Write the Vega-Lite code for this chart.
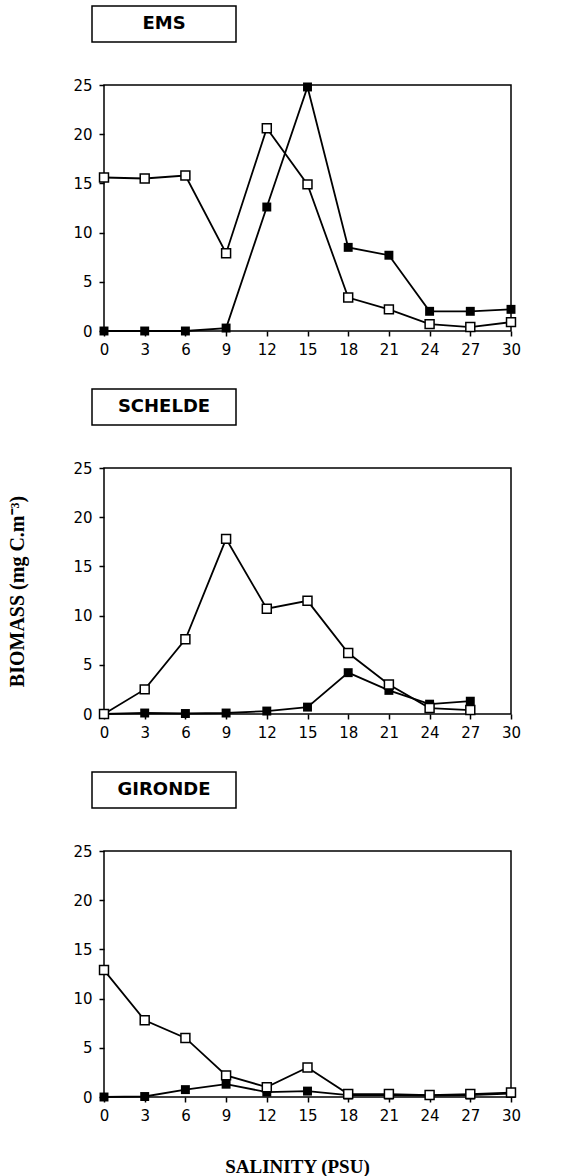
{
  "$schema": "https://vega.github.io/schema/vega-lite/v6.json",
  "padding": {"left": 7, "top": 5, "right": 5, "bottom": 0},
  "background": "white",
  "spacing": 30,
  "config": {
    "view": {"stroke": "black", "strokeWidth": 1.5},
    "concat": {"spacing": 0},
    "axis": {
      "domain": false,
      "grid": false,
      "ticks": true,
      "tickSize": 5,
      "tickColor": "black",
      "tickWidth": 1.5,
      "labelFont": "DejaVu Sans",
      "labelFontSize": 15,
      "labelColor": "black",
      "labelFlush": false,
      "titleFont": "Liberation Serif",
      "titleFontWeight": "bold",
      "titleColor": "black"
    },
    "axisX": {"labelPadding": 6, "titleFontSize": 19},
    "axisY": {"labelPadding": 7, "titleFontSize": 20}
  },
  "datasets": {
    "d": [
      {"estuary": "EMS", "series": "open", "salinity": 0, "biomass": 15.6},
      {"estuary": "EMS", "series": "open", "salinity": 3, "biomass": 15.5},
      {"estuary": "EMS", "series": "open", "salinity": 6, "biomass": 15.8},
      {"estuary": "EMS", "series": "open", "salinity": 9, "biomass": 7.9},
      {"estuary": "EMS", "series": "open", "salinity": 12, "biomass": 20.6},
      {"estuary": "EMS", "series": "open", "salinity": 15, "biomass": 14.9},
      {"estuary": "EMS", "series": "open", "salinity": 18, "biomass": 3.4},
      {"estuary": "EMS", "series": "open", "salinity": 21, "biomass": 2.2},
      {"estuary": "EMS", "series": "open", "salinity": 24, "biomass": 0.7},
      {"estuary": "EMS", "series": "open", "salinity": 27, "biomass": 0.4},
      {"estuary": "EMS", "series": "open", "salinity": 30, "biomass": 0.9},
      {"estuary": "EMS", "series": "filled", "salinity": 0, "biomass": 0},
      {"estuary": "EMS", "series": "filled", "salinity": 3, "biomass": 0},
      {"estuary": "EMS", "series": "filled", "salinity": 6, "biomass": 0},
      {"estuary": "EMS", "series": "filled", "salinity": 9, "biomass": 0.3},
      {"estuary": "EMS", "series": "filled", "salinity": 12, "biomass": 12.6},
      {"estuary": "EMS", "series": "filled", "salinity": 15, "biomass": 24.8},
      {"estuary": "EMS", "series": "filled", "salinity": 18, "biomass": 8.5},
      {"estuary": "EMS", "series": "filled", "salinity": 21, "biomass": 7.7},
      {"estuary": "EMS", "series": "filled", "salinity": 24, "biomass": 2.0},
      {"estuary": "EMS", "series": "filled", "salinity": 27, "biomass": 2.0},
      {"estuary": "EMS", "series": "filled", "salinity": 30, "biomass": 2.2},
      {"estuary": "SCHELDE", "series": "open", "salinity": 0, "biomass": 0},
      {"estuary": "SCHELDE", "series": "open", "salinity": 3, "biomass": 2.5},
      {"estuary": "SCHELDE", "series": "open", "salinity": 6, "biomass": 7.6},
      {"estuary": "SCHELDE", "series": "open", "salinity": 9, "biomass": 17.8},
      {"estuary": "SCHELDE", "series": "open", "salinity": 12, "biomass": 10.7},
      {"estuary": "SCHELDE", "series": "open", "salinity": 15, "biomass": 11.5},
      {"estuary": "SCHELDE", "series": "open", "salinity": 18, "biomass": 6.2},
      {"estuary": "SCHELDE", "series": "open", "salinity": 21, "biomass": 3.0},
      {"estuary": "SCHELDE", "series": "open", "salinity": 24, "biomass": 0.6},
      {"estuary": "SCHELDE", "series": "open", "salinity": 27, "biomass": 0.4},
      {"estuary": "SCHELDE", "series": "filled", "salinity": 0, "biomass": 0},
      {"estuary": "SCHELDE", "series": "filled", "salinity": 3, "biomass": 0.1},
      {"estuary": "SCHELDE", "series": "filled", "salinity": 6, "biomass": 0.05},
      {"estuary": "SCHELDE", "series": "filled", "salinity": 9, "biomass": 0.1},
      {"estuary": "SCHELDE", "series": "filled", "salinity": 12, "biomass": 0.3},
      {"estuary": "SCHELDE", "series": "filled", "salinity": 15, "biomass": 0.7},
      {"estuary": "SCHELDE", "series": "filled", "salinity": 18, "biomass": 4.2},
      {"estuary": "SCHELDE", "series": "filled", "salinity": 21, "biomass": 2.4},
      {"estuary": "SCHELDE", "series": "filled", "salinity": 24, "biomass": 1.0},
      {"estuary": "SCHELDE", "series": "filled", "salinity": 27, "biomass": 1.3},
      {"estuary": "GIRONDE", "series": "open", "salinity": 0, "biomass": 12.9},
      {"estuary": "GIRONDE", "series": "open", "salinity": 3, "biomass": 7.8},
      {"estuary": "GIRONDE", "series": "open", "salinity": 6, "biomass": 6.0},
      {"estuary": "GIRONDE", "series": "open", "salinity": 9, "biomass": 2.2},
      {"estuary": "GIRONDE", "series": "open", "salinity": 12, "biomass": 1.0},
      {"estuary": "GIRONDE", "series": "open", "salinity": 15, "biomass": 3.0},
      {"estuary": "GIRONDE", "series": "open", "salinity": 18, "biomass": 0.3},
      {"estuary": "GIRONDE", "series": "open", "salinity": 21, "biomass": 0.3},
      {"estuary": "GIRONDE", "series": "open", "salinity": 24, "biomass": 0.2},
      {"estuary": "GIRONDE", "series": "open", "salinity": 27, "biomass": 0.3},
      {"estuary": "GIRONDE", "series": "open", "salinity": 30, "biomass": 0.45},
      {"estuary": "GIRONDE", "series": "filled", "salinity": 0, "biomass": 0},
      {"estuary": "GIRONDE", "series": "filled", "salinity": 3, "biomass": 0.05},
      {"estuary": "GIRONDE", "series": "filled", "salinity": 6, "biomass": 0.75},
      {"estuary": "GIRONDE", "series": "filled", "salinity": 9, "biomass": 1.3},
      {"estuary": "GIRONDE", "series": "filled", "salinity": 12, "biomass": 0.5},
      {"estuary": "GIRONDE", "series": "filled", "salinity": 15, "biomass": 0.6},
      {"estuary": "GIRONDE", "series": "filled", "salinity": 18, "biomass": 0.2},
      {"estuary": "GIRONDE", "series": "filled", "salinity": 21, "biomass": 0.2},
      {"estuary": "GIRONDE", "series": "filled", "salinity": 24, "biomass": 0.15},
      {"estuary": "GIRONDE", "series": "filled", "salinity": 27, "biomass": 0.2},
      {"estuary": "GIRONDE", "series": "filled", "salinity": 30, "biomass": 0.35}
    ]
  },
  "vconcat": [
    {
      "spacing": 34,
      "vconcat": [
        {"width": 144, "height": 36, "view": {"stroke": "black", "strokeWidth": 1.5}, "data": {"values": [{"name": "EMS"}]}, "mark": {"type": "text", "font": "DejaVu Sans", "fontSize": 18, "fontWeight": "bold", "color": "black"}, "encoding": {"text": {"field": "name"}}},
        {
          "bounds": "flush",
          "spacing": 0,
          "hconcat": [
            {"width": 12, "height": 246, "view": {"stroke": null}, "data": {"values": [{}]}, "mark": "text", "encoding": {"text": {"value": ""}}},
            {
              "width": 407, "height": 246,
              "data": {"name": "d"},
              "transform": [{"filter": "datum.estuary === 'EMS'"}],
              "encoding": {
                "x": {"field": "salinity", "type": "quantitative", "scale": {"domain": [0, 30], "nice": false}, "axis": {"values": [0, 3, 6, 9, 12, 15, 18, 21, 24, 27, 30], "title": null}},
                "y": {"field": "biomass", "type": "quantitative", "scale": {"domain": [0, 25], "nice": false}, "axis": {"values": [0, 5, 10, 15, 20, 25], "title": "BIOMASS (mg C.m⁻³)", "titlePadding": 45, "titleOpacity": 0}}
              },
              "layer": [
                {"mark": {"type": "line", "color": "black", "strokeWidth": 1.8}, "encoding": {"detail": {"field": "series"}}},
                {"transform": [{"filter": "datum.series === 'filled'"}], "mark": {"type": "point", "shape": "square", "size": 80, "filled": true, "color": "black", "opacity": 1}},
                {"transform": [{"filter": "datum.series === 'open'"}], "mark": {"type": "point", "shape": "square", "size": 80, "fill": "white", "stroke": "black", "strokeWidth": 1.5, "opacity": 1}}
              ]
            }
          ]
        }
      ]
    },
    {
      "spacing": 34,
      "vconcat": [
        {"width": 144, "height": 36, "view": {"stroke": "black", "strokeWidth": 1.5}, "data": {"values": [{"name": "SCHELDE"}]}, "mark": {"type": "text", "font": "DejaVu Sans", "fontSize": 18, "fontWeight": "bold", "color": "black"}, "encoding": {"text": {"field": "name"}}},
        {
          "bounds": "flush",
          "spacing": 0,
          "hconcat": [
            {"width": 12, "height": 246, "view": {"stroke": null}, "data": {"values": [{}]}, "mark": "text", "encoding": {"text": {"value": ""}}},
            {
              "width": 407, "height": 246,
              "data": {"name": "d"},
              "transform": [{"filter": "datum.estuary === 'SCHELDE'"}],
              "encoding": {
                "x": {"field": "salinity", "type": "quantitative", "scale": {"domain": [0, 30], "nice": false}, "axis": {"values": [0, 3, 6, 9, 12, 15, 18, 21, 24, 27, 30], "title": null}},
                "y": {"field": "biomass", "type": "quantitative", "scale": {"domain": [0, 25], "nice": false}, "axis": {"values": [0, 5, 10, 15, 20, 25], "title": "BIOMASS (mg C.m⁻³)", "titlePadding": 45}}
              },
              "layer": [
                {"mark": {"type": "line", "color": "black", "strokeWidth": 1.8}, "encoding": {"detail": {"field": "series"}}},
                {"transform": [{"filter": "datum.series === 'filled'"}], "mark": {"type": "point", "shape": "square", "size": 80, "filled": true, "color": "black", "opacity": 1}},
                {"transform": [{"filter": "datum.series === 'open'"}], "mark": {"type": "point", "shape": "square", "size": 80, "fill": "white", "stroke": "black", "strokeWidth": 1.5, "opacity": 1}}
              ]
            }
          ]
        }
      ]
    },
    {
      "spacing": 34,
      "vconcat": [
        {"width": 144, "height": 36, "view": {"stroke": "black", "strokeWidth": 1.5}, "data": {"values": [{"name": "GIRONDE"}]}, "mark": {"type": "text", "font": "DejaVu Sans", "fontSize": 18, "fontWeight": "bold", "color": "black"}, "encoding": {"text": {"field": "name"}}},
        {
          "bounds": "flush",
          "spacing": 0,
          "hconcat": [
            {"width": 12, "height": 246, "view": {"stroke": null}, "data": {"values": [{}]}, "mark": "text", "encoding": {"text": {"value": ""}}},
            {
              "width": 407, "height": 246,
              "data": {"name": "d"},
              "transform": [{"filter": "datum.estuary === 'GIRONDE'"}],
              "encoding": {
                "x": {"field": "salinity", "type": "quantitative", "scale": {"domain": [0, 30], "nice": false}, "axis": {"values": [0, 3, 6, 9, 12, 15, 18, 21, 24, 27, 30], "title": "SALINITY (PSU)", "titlePadding": 34, "titleX": 193}},
                "y": {"field": "biomass", "type": "quantitative", "scale": {"domain": [0, 25], "nice": false}, "axis": {"values": [0, 5, 10, 15, 20, 25], "title": "BIOMASS (mg C.m⁻³)", "titlePadding": 45, "titleOpacity": 0}}
              },
              "layer": [
                {"mark": {"type": "line", "color": "black", "strokeWidth": 1.8}, "encoding": {"detail": {"field": "series"}}},
                {"transform": [{"filter": "datum.series === 'filled'"}], "mark": {"type": "point", "shape": "square", "size": 80, "filled": true, "color": "black", "opacity": 1}},
                {"transform": [{"filter": "datum.series === 'open'"}], "mark": {"type": "point", "shape": "square", "size": 80, "fill": "white", "stroke": "black", "strokeWidth": 1.5, "opacity": 1}}
              ]
            }
          ]
        }
      ]
    }
  ]
}
